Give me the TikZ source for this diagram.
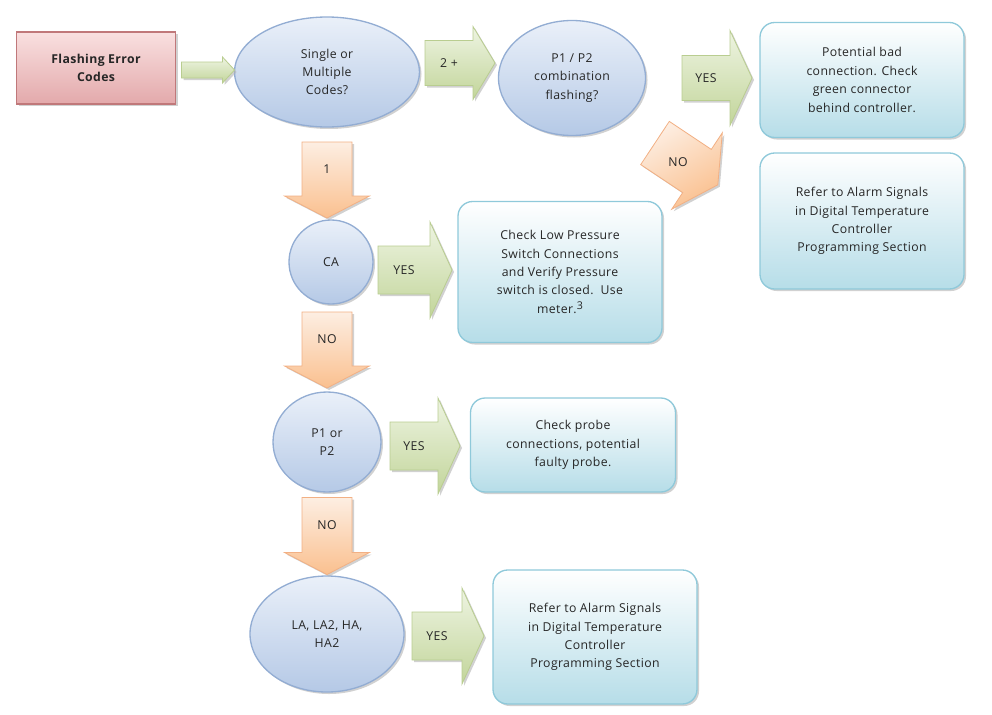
\documentclass[tikz,border=0pt]{standalone}
\usepackage{fontspec}
\setmainfont{Open Sans}[LetterSpace=3]
\usetikzlibrary{shapes.geometric,shadows}
\definecolor{pinkT}{HTML}{F9E0E0}\definecolor{pinkB}{HTML}{E3A9AB}\definecolor{pinkD}{HTML}{C0787A}
\definecolor{bluT}{HTML}{EAF0F9}\definecolor{bluB}{HTML}{B5C9E6}\definecolor{bluD}{HTML}{93ADD3}
\definecolor{grnT}{HTML}{EEF4E2}\definecolor{grnB}{HTML}{C2D59A}\definecolor{grnD}{HTML}{B9CD90}
\definecolor{orT}{HTML}{FDEEE2}\definecolor{orB}{HTML}{FAC08F}\definecolor{orD}{HTML}{F2B084}
\definecolor{cyT}{HTML}{FFFFFF}\definecolor{cyB}{HTML}{B6DDE8}\definecolor{cyD}{HTML}{8FC9DA}
\def\u{0.75pt}
\tikzset{
 x=0.75pt,y=-0.75pt,
 every node/.style={font=\fontsize{9.2}{13.8}\selectfont, text=black!85, align=center, inner sep=0pt},
 sh/.style={drop shadow={shadow xshift=1.5pt,shadow yshift=-1.5pt,fill=black!30,opacity=0.6}},
 pinkbox/.style={sh,draw=pinkD,line width=1.2pt,top color=pinkT,bottom color=pinkB,font=\fontsize{9.2}{13.8}\selectfont\bfseries},
 oval/.style={sh,ellipse,draw=bluD,line width=1pt,top color=bluT,bottom color=bluB},
 cbox/.style={sh,draw=cyD,line width=1pt,rounded corners=11pt,top color=cyT,bottom color=cyB},
 garr/.style={sh,draw=grnD,line width=0.6pt,top color=grnT,bottom color=grnB},
 oarr/.style={sh,draw=orD,line width=0.6pt,top color=orT,bottom color=orB},
}
% #1 name, #2 cx, #3 cy, #4 length, #5 body, #6 head, #7 headlen, #8 style, #9 text
\newcommand\harr[9]{%
 \path[#8] ({#2-#4/2},{#3-#5/2}) -- ({#2+#4/2-#7},{#3-#5/2}) -- ({#2+#4/2-#7},{#3-#6/2}) -- ({#2+#4/2},#3)
  -- ({#2+#4/2-#7},{#3+#6/2}) -- ({#2+#4/2-#7},{#3+#5/2}) -- ({#2-#4/2},{#3+#5/2}) -- cycle;
 \node (#1) at ({#2-#7/2},#3) {#9};}
\newcommand\varr[9]{%
 \path[#8] ({#2-#5/2},{#3-#4/2}) -- ({#2-#5/2},{#3+#4/2-#7}) -- ({#2-#6/2},{#3+#4/2-#7}) -- (#2,{#3+#4/2})
  -- ({#2+#6/2},{#3+#4/2-#7}) -- ({#2+#5/2},{#3+#4/2-#7}) -- ({#2+#5/2},{#3-#4/2}) -- cycle;
 \node (#1) at (#2,{#3-#7/2}) {#9};}
\begin{document}
\begin{tikzpicture}
\useasboundingbox (0,0) rectangle (992,714);
% nodes
\node[pinkbox,minimum width=159*\u,minimum height=72*\u] (fec) at (96,68) {Flashing Error\\Codes};
\node[oval,minimum width=185*\u,minimum height=110*\u] (smc) at (327,72) {Single or\\Multiple\\Codes?};
\node[oval,minimum width=147*\u,minimum height=115*\u] (p12) at (572,78) {P1 / P2\\combination\\flashing?};
\node[cbox,minimum width=204*\u,minimum height=115*\u] (bad) at (862,80) {Potential bad\\connection. Check\\green connector\\behind controller.};
\node[cbox,minimum width=204*\u,minimum height=136*\u] (ref1) at (862,221) {Refer to Alarm Signals\\in Digital Temperature\\Controller\\Programming Section};
\node[oval,minimum width=84*\u,minimum height=84*\u] (ca) at (331,262) {CA};
\node[cbox,minimum width=204*\u,minimum height=141*\u] (low) at (560,272) {Check Low Pressure\\Switch Connections\\and Verify Pressure\\switch is closed.\ \ Use\\meter.\raisebox{3pt}{\fontsize{8}{8}\selectfont 3}};
\node[oval,minimum width=108*\u,minimum height=100*\u] (p1p2) at (327,442) {P1 or\\P2};
\node[cbox,minimum width=205*\u,minimum height=94*\u] (probe) at (573,445) {Check probe\\connections, potential\\faulty probe.};
\node[oval,minimum width=154*\u,minimum height=116*\u] (la) at (327,634) {LA, LA2, HA,\\HA2};
\node[cbox,minimum width=204*\u,minimum height=134*\u] (ref2) at (595,637) {Refer to Alarm Signals\\in Digital Temperature\\Controller\\Programming Section};
% arrows
\harr{a0}{208}{70}{53}{16}{26}{12}{garr}{}
\harr{a1}{460}{63}{70}{45}{73}{22}{garr}{2 +}
\harr{a2}{717}{78}{70}{45}{95}{22}{garr}{YES}
\harr{a3}{415}{270}{74}{48}{96}{22}{garr}{YES}
\harr{a4}{425}{446}{70}{48}{96}{22}{garr}{YES}
\harr{a5}{448}{636}{72}{48}{96}{22}{garr}{YES}
\varr{d1}{327}{180}{76}{50}{85}{22}{oarr}{1}
\varr{d2}{327}{350}{76}{50}{85}{22}{oarr}{NO}
\varr{d3}{327}{536}{77}{50}{85}{22}{oarr}{NO}
\path[oarr,shading angle=30] (669.3,121.4) -- (711.3,149.4) -- (722.3,132.8) -- (717.8,184.8) -- (671.7,209.2) -- (682.7,192.6) -- (640.7,164.6) -- cycle;
\node (d4) at (678,162) {NO};
\end{tikzpicture}
\end{document}
